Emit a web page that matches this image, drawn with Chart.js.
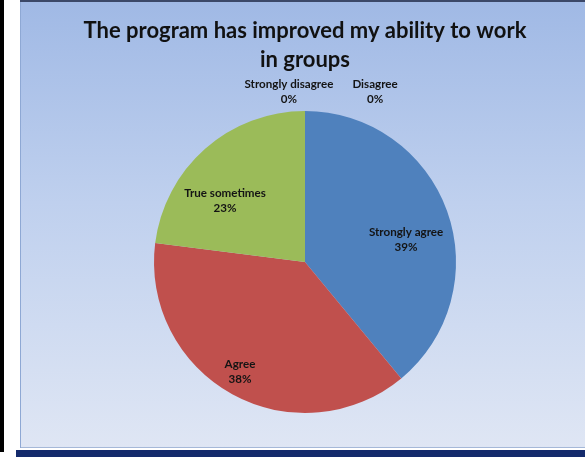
<!DOCTYPE html>
<html>
<head>
<meta charset="utf-8">
<script src="https://cdn.jsdelivr.net/npm/chart.js@4"></script>
<style>
  body { margin: 0; background: #fff; width: 585px; height: 458px; position: relative; overflow: hidden; }
  #edge { position: absolute; left: 0; top: 0; width: 4px; height: 452px; background: #000; }
  #panel {
    position: absolute; left: 20px; top: 0; width: 565px; height: 448px;
    box-sizing: border-box; border-top: 2px solid #3b4868;
    background: linear-gradient(to bottom, #a0b9e5 0%, #bfd0ee 45%, #dfe6f4 100%);
    box-shadow: inset 1px 0 0 #8ea8d4, inset 0 -1px 0 #a5b8d8;
  }
  #footer { position: absolute; left: 16px; top: 450px; width: 569px; height: 7px; background: #142a6c; }
  #panel canvas { position: absolute; left: 0; top: 0; }
</style>
</head>
<body>
<div id="edge"></div>
<div id="panel"><canvas id="pie" width="565" height="446"></canvas></div>
<div id="footer"></div>
<script>
const titleLines = ['The program has improved my ability to work', 'in groups'];
const categories = ['Strongly agree', 'Agree', 'True sometimes', 'Strongly disagree', 'Disagree'];
const shares = [39, 38, 23, 0, 0];
const sliceColors = ['#4f81bd', '#c0504d', '#9bbb59', '#8064a2', '#4bacc6'];

// writes "name / NN%" for every slice, placed around the slice's middle angle
const sliceLabels = {
  id: 'sliceLabels',
  afterDatasetsDraw(chart, args, opts) {
    const ctx = chart.ctx;
    const arcs = chart.getDatasetMeta(0).data;
    ctx.save();
    ctx.font = opts.font;
    ctx.fillStyle = opts.color;
    ctx.textAlign = 'center';
    ctx.textBaseline = 'middle';
    arcs.forEach((arc, i) => {
      const p = arc.getProps(['x', 'y', 'startAngle', 'endAngle', 'outerRadius'], true);
      const place = opts.placement[i];
      const a = (p.startAngle + p.endAngle) / 2 + place.shift * Math.PI / 180;
      const r = p.outerRadius * place.radius;
      const x = p.x + Math.cos(a) * r;
      const y = p.y + Math.sin(a) * r;
      ctx.fillText(categories[i], x, y - opts.lineHeight / 2);
      ctx.fillText(shares[i] + '%', x, y + opts.lineHeight / 2);
    });
    ctx.restore();
  }
};

new Chart(document.getElementById('pie'), {
  type: 'pie',
  data: {
    labels: categories,
    datasets: [{
      data: shares,
      backgroundColor: sliceColors,
      borderWidth: 0
    }]
  },
  options: {
    responsive: false,
    animation: false,
    radius: 151,
    layout: { padding: { left: 5, right: 0, top: 0, bottom: 13 } },
    plugins: {
      legend: { display: false },
      tooltip: { enabled: false },
      title: {
        display: true,
        text: titleLines,
        color: '#111',
        font: { family: 'Lato', size: 22, weight: 'bold', lineHeight: 1.32 },
        padding: { top: 14, bottom: 15 }
      },
      sliceLabels: {
        font: 'bold 11.6px Lato',
        color: '#141414',
        lineHeight: 15,
        placement: [
          { shift: 7.5, radius: 0.685 },
          { shift: 1.8, radius: 0.846 },
          { shift: -11.3, radius: 0.666 },
          { shift: -5.4, radius: 1.131 },
          { shift: 22.4, radius: 1.217 }
        ]
      }
    }
  },
  plugins: [sliceLabels]
});
</script>
</body>
</html>
